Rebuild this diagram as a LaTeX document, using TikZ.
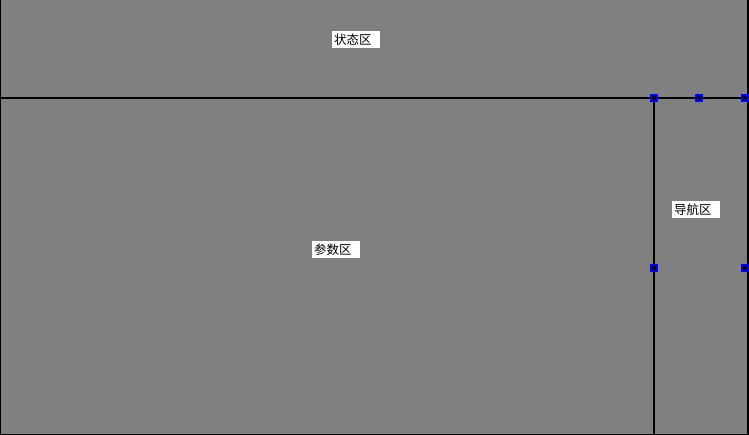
\documentclass[tikz,border=0pt]{standalone}
\usepackage{fontspec}
\newfontfamily\cjk{Noto Sans CJK SC}
\begin{document}
\begin{tikzpicture}[x=1pt,y=-1pt,
  lbl/.style={fill=white,inner xsep=2pt,inner ysep=0pt,text width=44pt,align=left,minimum height=17pt,anchor=north west,font=\cjk\fontsize{12.5}{13}\selectfont},
  handle/.style={draw=blue,fill=black,line width=1.2pt,minimum size=6pt,inner sep=0pt},
  divider/.style={draw=black,line width=2pt}]
\fill[fill={rgb,255:red,128;green,128;blue,128}] (0,0) rectangle (749,435);
\useasboundingbox (0,0) rectangle (749,435);
% borders
\draw[black,line width=1pt] (0.5,0) -- (0.5,435);
\draw[black,line width=2pt] (748,0) -- (748,435);
\draw[black,line width=1.5pt] (0,434.25) -- (749,434.25);
% dividers
\coordinate (hl) at (0,98);
\coordinate (hr) at (749,98);
\coordinate (vt) at (653.5,98);
\coordinate (vb) at (653.5,435);
\draw[divider] (hl) -- (hr);
\draw[divider] (vt) -- (vb);
% labels
\node[lbl] (status) at (332,31) {状态区};
\node[lbl] (param) at (312,241) {参数区};
\node[lbl] (nav) at (672,201) {导航区};
% handles
\node[handle] (h1) at (654,98) {};
\node[handle] (h2) at (699,98) {};
\node[handle] (h3) at (745,98) {};
\node[handle] (h4) at (654,268) {};
\node[handle] (h5) at (745,268) {};
\end{tikzpicture}
\end{document}
